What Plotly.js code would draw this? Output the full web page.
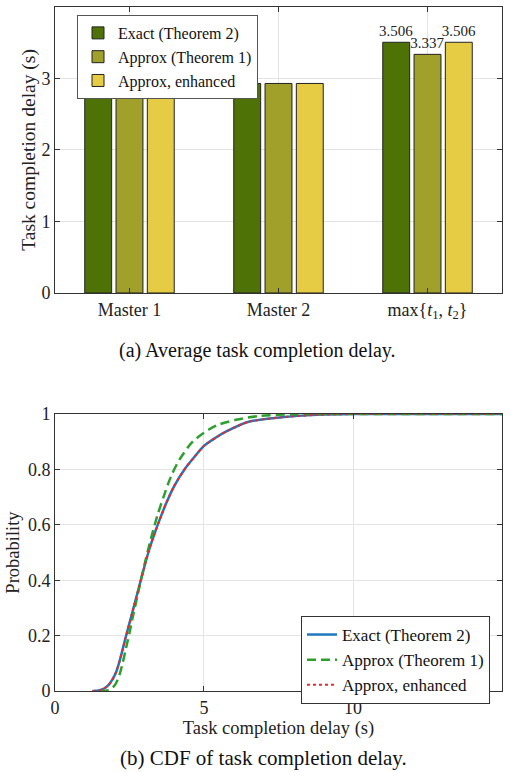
<!DOCTYPE html>
<html>
<head>
<meta charset="utf-8">
<script src="https://cdn.plot.ly/plotly-3.0.1.min.js"></script>
<style>html,body{margin:0;padding:0;background:#fff;}#chart{width:511px;height:772px;}</style>
</head>
<body>
<div id="chart"></div>
<script>
// ---- Data (a): average task completion delay ----
const categories = ['Master 1', 'Master 2', 'max{<i>t</i><sub>1</sub>, <i>t</i><sub>2</sub>}'];
const seriesNames = ['Exact (Theorem 2)', 'Approx (Theorem 1)', 'Approx, enhanced'];
const exactDelay = [2.75, 2.93, 3.506];
const approxDelay = [2.75, 2.93, 3.337];
const enhancedDelay = [2.75, 2.93, 3.506];
const exactLabels = ['', '', '3.506'];
const approxLabels = ['', '', '3.337'];
const enhancedLabels = ['', '', '3.506'];

// ---- Data (b): CDF of task completion delay ----
const exactX = [1.26, 1.5, 1.65, 1.8, 1.93, 2.05, 2.16, 2.27, 2.38, 2.5, 2.66, 2.83, 2.99, 3.16, 3.33, 3.5, 3.72, 4.0, 4.38, 4.7, 5.0, 5.4, 5.75, 6.5, 7.6, 8.8, 10, 15];
const exactY = [0, 0.003, 0.009, 0.022, 0.042, 0.068, 0.105, 0.15, 0.197, 0.245, 0.31, 0.38, 0.445, 0.51, 0.565, 0.615, 0.675, 0.74, 0.805, 0.848, 0.885, 0.915, 0.937, 0.972, 0.988, 0.997, 1, 1];
const approxX = [1.5, 1.7, 1.85, 2.0, 2.1, 2.16, 2.27, 2.38, 2.5, 2.6, 2.77, 3.0, 3.22, 3.44, 3.64, 3.89, 4.17, 4.62, 5.18, 5.5, 6.07, 6.86, 7.97, 10, 15];
const approxY = [0, 0.001, 0.006, 0.02, 0.04, 0.057, 0.1, 0.153, 0.21, 0.262, 0.345, 0.455, 0.55, 0.635, 0.7, 0.774, 0.834, 0.9, 0.945, 0.962, 0.979, 0.993, 0.999, 1, 1];
const enhancedX = exactX;
const enhancedY = exactY;

const barColors = ['#4f7207', '#a0a02a', '#e6cc44'];
const FONT = 'Liberation Serif';
const AX = '#333333';

const traces = [
  {type: 'bar', name: seriesNames[0], x: categories, y: exactDelay, text: exactLabels,
   marker: {color: barColors[0], line: {color: '#222', width: 1}}},
  {type: 'bar', name: seriesNames[1], x: categories, y: approxDelay, text: approxLabels,
   marker: {color: barColors[1], line: {color: '#222', width: 1}}},
  {type: 'bar', name: seriesNames[2], x: categories, y: enhancedDelay, text: enhancedLabels,
   marker: {color: barColors[2], line: {color: '#222', width: 1}}},
  {type: 'scatter', mode: 'lines', name: seriesNames[0], x: exactX, y: exactY,
   xaxis: 'x2', yaxis: 'y2', legend: 'legend2', line: {color: '#1f77c0', width: 2.5, shape: 'spline', smoothing: 0.8}},
  {type: 'scatter', mode: 'lines', name: seriesNames[1], x: approxX, y: approxY,
   xaxis: 'x2', yaxis: 'y2', legend: 'legend2', line: {color: '#2ca02c', width: 2.5, dash: '9px,5px', shape: 'spline', smoothing: 0.8}},
  {type: 'scatter', mode: 'lines', name: seriesNames[2], x: enhancedX, y: enhancedY,
   xaxis: 'x2', yaxis: 'y2', legend: 'legend2', line: {color: '#e8282c', width: 2, dash: '3px,3px', shape: 'spline', smoothing: 0.8}}
];
traces.slice(0, 3).forEach(t => {
  t.textposition = 'outside';
  t.cliponaxis = false;
  t.constraintext = 'none';
  t.textfont = {family: FONT, size: 15, color: '#222'};
});

const axisCommon = {
  showline: true, mirror: 'ticks', linecolor: AX, linewidth: 1,
  ticks: 'inside', ticklen: 5, tickcolor: AX,
  gridcolor: '#e4e4e4', zeroline: false,
  tickfont: {family: FONT, size: 18, color: '#222'}
};

const layout = {
  width: 511, height: 772,
  margin: {l: 0, r: 0, t: 0, b: 0},
  paper_bgcolor: '#fff', plot_bgcolor: '#fff',
  font: {family: FONT, color: '#222', size: 16},
  showlegend: true,
  barmode: 'group', bargap: 0.37, bargroupgap: 0.14,
  xaxis: Object.assign({}, axisCommon, {
    domain: [0.1076, 0.9824], anchor: 'y', type: 'category', range: [-0.5, 2.5]
  }),
  yaxis: Object.assign({}, axisCommon, {
    domain: [0.6205, 0.991], anchor: 'x', range: [0, 4], dtick: 1,
    title: {text: 'Task completion delay (s)', font: {family: FONT, size: 19.5, color: '#222'}, standoff: 0}
  }),
  xaxis2: Object.assign({}, axisCommon, {
    domain: [0.1076, 0.9824], anchor: 'y2', range: [0, 15], dtick: 5,
    title: {text: 'Task completion delay (s)', font: {family: FONT, size: 18.5, color: '#222'}, standoff: 4}
  }),
  yaxis2: Object.assign({}, axisCommon, {
    domain: [0.1049, 0.4637], anchor: 'x2', range: [0, 1], dtick: 0.2,
    title: {text: 'Probability', font: {family: FONT, size: 18.5, color: '#222'}, standoff: 3}
  }),
  legend: {
    x: 0.1507, y: 0.9806, xanchor: 'left', yanchor: 'top',
    bgcolor: '#fff', bordercolor: '#555', borderwidth: 1,
    font: {family: FONT, size: 16, color: '#111'}, tracegroupgap: 0, itemwidth: 30
  },
  legend2: {
    x: 0.589, y: 0.2021, xanchor: 'left', yanchor: 'top',
    bgcolor: '#fff', bordercolor: '#333', borderwidth: 1,
    font: {family: FONT, size: 17, color: '#111'}, tracegroupgap: 0, itemwidth: 30
  },
  annotations: [
    {xref: 'paper', yref: 'paper', x: 0.503, y: 0.5466, text: '(a) Average task completion delay.',
     showarrow: false, xanchor: 'center', yanchor: 'middle', font: {family: FONT, size: 20, color: '#111'}},
    {xref: 'paper', yref: 'paper', x: 0.515, y: 0.0181, text: '(b) CDF of task completion delay.',
     showarrow: false, xanchor: 'center', yanchor: 'middle', font: {family: FONT, size: 21, color: '#111'}}
  ]
};

Plotly.newPlot('chart', traces, layout, {staticPlot: true, displayModeBar: false});
</script>
</body>
</html>
